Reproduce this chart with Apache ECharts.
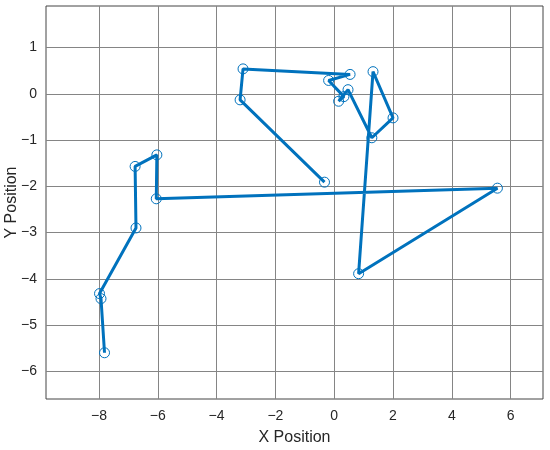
<!DOCTYPE html>
<html>
<head>
<meta charset="utf-8">
<script src="https://cdn.jsdelivr.net/npm/echarts@6/dist/echarts.min.js"></script>
<style>
  html, body { margin: 0; padding: 0; background: #fff; }
  #chart { width: 550px; height: 450px; }
</style>
</head>
<body>
<div id="chart"></div>
<script>
// path points, in drawing order
var xPos = [-0.33, -3.2, -3.1, 0.54, -0.19, 0.33, 0.15, 0.47, 1.28, 2.0, 1.32, 0.83, 5.55, -6.05, -6.03, -6.77, -6.74, -7.98, -7.93, -7.81];
var yPos = [-1.91, -0.13, 0.54, 0.42, 0.29, -0.06, -0.16, 0.09, -0.95, -0.52, 0.48, -3.89, -2.04, -2.27, -1.32, -1.57, -2.9, -4.32, -4.43, -5.6];
var xTicks = [-8, -6, -4, -2, 0, 2, 4, 6];
var yTicks = [-6, -5, -4, -3, -2, -1, 0, 1];

var pts = [];
for (var i = 0; i < xPos.length; i++) {
	pts.push([xPos[i], yPos[i]]);
}

function minus(v) {
	return String(v).replace('-', '\u2212');
}

var chart = echarts.init(document.getElementById('chart'));
var option = {
	animation: false,
	backgroundColor: '#fff',
	textStyle: { fontFamily: 'Liberation Sans, Arial, sans-serif' },
	grid: {
		left: 46, right: 7, top: 6, bottom: 51,
		outerBoundsMode: 'none',
		containLabel: false,
		show: true, borderColor: '#444', borderWidth: 1
	},
	xAxis: {
		type: 'value',
		min: -9.8, max: 7.1,
		name: 'X Position',
		nameLocation: 'middle',
		nameGap: 31,
		nameMoveOverlap: false,
		nameTextStyle: { fontSize: 16, color: '#262626' },
		axisLine: { show: false },
		axisTick: { show: false, customValues: xTicks },
		axisLabel: {
			customValues: xTicks,
			fontSize: 14, color: '#262626', margin: 10,
			formatter: minus
		},
		splitLine: { show: true, lineStyle: { color: '#858585', width: 1 } }
	},
	yAxis: {
		type: 'value',
		min: -6.6, max: 1.9,
		name: 'Y Position',
		nameLocation: 'middle',
		nameGap: 26,
		nameMoveOverlap: false,
		nameTextStyle: { fontSize: 16, color: '#262626' },
		axisLine: { show: false },
		axisTick: { show: false, customValues: yTicks },
		axisLabel: {
			customValues: yTicks,
			fontSize: 14, color: '#262626', margin: 9,
			formatter: minus
		},
		splitLine: { show: true, lineStyle: { color: '#858585', width: 1 } }
	},
	series: [{
		type: 'line',
		data: pts,
		symbol: 'circle',
		symbolSize: 10,
		showAllSymbol: true,
		lineStyle: { color: '#0072BD', width: 3 },
		itemStyle: { color: 'rgba(0,0,0,0)', borderColor: '#0072BD', borderWidth: 1 }
	}]
};
chart.setOption(option);
</script>
</body>
</html>
